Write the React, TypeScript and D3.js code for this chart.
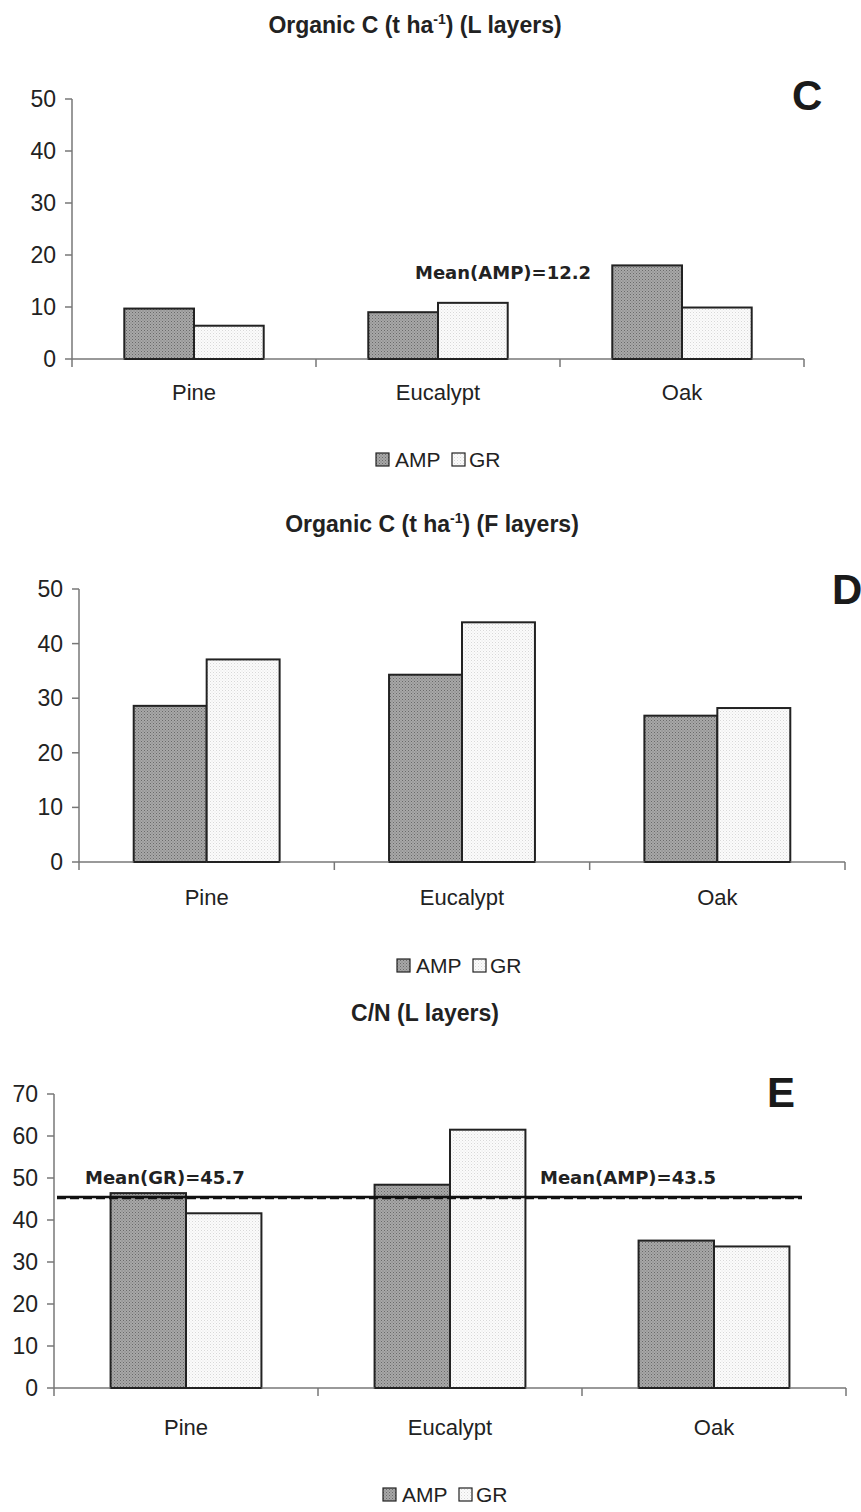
import React from 'react';
import * as d3 from 'd3';

// categories and series
const categories = ['Pine', 'Eucalypt', 'Oak'];
const seriesNames = ['AMP', 'GR'];

// Organic C (t ha-1), L layers
const lAmp = [9.7, 9.0, 18.0];
const lGr = [6.4, 10.8, 9.9];
// Organic C (t ha-1), F layers
const fAmp = [28.6, 34.3, 26.8];
const fGr = [37.1, 43.9, 28.2];
// C/N, L layers
const cnAmp = [46.4, 48.4, 35.1];
const cnGr = [41.6, 61.5, 33.7];

const ticks50 = [0, 10, 20, 30, 40, 50];
const ticks70 = [0, 10, 20, 30, 40, 50, 60, 70];

const font = '"Liberation Sans", Arial, sans-serif';
const wideBold = '"DejaVu Sans", Verdana, sans-serif';

const panels = [
  {
    letter: 'C', title: ['Organic C (t ha', '-1', ') (L layers)'],
    amp: lAmp, gr: lGr, ticks: ticks50, max: 50,
    x0: 72, x1: 804, yTop: 99, yBase: 359,
    titleX: 415, titleY: 33, letterX: 792, letterY: 110,
    catY: 400, legendX: 376, legendY: 460,
    notes: [{ text: 'Mean(AMP)=12.2', x: 415, y: 279 }],
    means: [],
  },
  {
    letter: 'D', title: ['Organic C (t ha', '-1', ') (F layers)'],
    amp: fAmp, gr: fGr, ticks: ticks50, max: 50,
    x0: 79, x1: 845, yTop: 589, yBase: 862,
    titleX: 432, titleY: 532, letterX: 832, letterY: 604,
    catY: 905, legendX: 397, legendY: 966,
    notes: [],
    means: [],
  },
  {
    letter: 'E', title: ['C/N (L layers)', '', ''],
    amp: cnAmp, gr: cnGr, ticks: ticks70, max: 70,
    x0: 54, x1: 846, yTop: 1094, yBase: 1388,
    titleX: 425, titleY: 1021, letterX: 767, letterY: 1107,
    catY: 1435, legendX: 383, legendY: 1495,
    notes: [
      { text: 'Mean(GR)=45.7', x: 85, y: 1184 },
      { text: 'Mean(AMP)=43.5', x: 540, y: 1184 },
    ],
    means: [
      { value: 45.5, dashed: false },
      { value: 45.2, dashed: true },
    ],
  },
];

const Panel = ({ p }: { p: any }) => {
  const y = d3.scaleLinear().domain([0, p.max]).range([p.yBase, p.yTop]);
  const xCat = d3.scaleBand<string>().domain(categories).range([p.x0, p.x1]).padding(0);
  const xSer = d3.scaleBand<string>().domain(seriesNames)
    .range([0, xCat.bandwidth()]).paddingInner(0).paddingOuter(0.75);
  const values = [p.amp, p.gr];

  return (
    <g>
      <text x={p.titleX} y={p.titleY} textAnchor="middle" fontFamily={font} fontWeight="bold" fontSize={23} fill="#222">
        <tspan>{p.title[0]}</tspan>
        {p.title[1] && <tspan dy={-9} fontSize={14}>{p.title[1]}</tspan>}
        {p.title[2] && <tspan dy={9}>{p.title[2]}</tspan>}
      </text>
      <text x={p.letterX} y={p.letterY} fontFamily={font} fontWeight="bold" fontSize={42} fill="#1a1a1a">{p.letter}</text>

      {/* bars */}
      {seriesNames.map((s, si) => categories.map((c, ci) => {
        const v = values[si][ci];
        return (
          <rect key={s + c}
            x={(xCat(c) as number) + (xSer(s) as number)}
            y={y(v)}
            width={xSer.bandwidth()}
            height={p.yBase - y(v)}
            fill={si === 0 ? 'url(#patAmp)' : 'url(#patGr)'}
            stroke="#222" strokeWidth={2} />
        );
      }))}

      {/* y axis */}
      <line x1={p.x0} x2={p.x0} y1={p.yTop} y2={p.yBase + 8} stroke="#777" strokeWidth={1.5} />
      {p.ticks.map((t: number) => (
        <g key={t}>
          <line x1={p.x0 - 7} x2={p.x0} y1={y(t)} y2={y(t)} stroke="#777" strokeWidth={1.5} />
          <text x={p.x0 - 16} y={y(t) + 8} textAnchor="end" fontFamily={font} fontSize={23} fill="#222">{t}</text>
        </g>
      ))}

      {/* x axis */}
      <line x1={p.x0} x2={p.x1} y1={p.yBase} y2={p.yBase} stroke="#777" strokeWidth={1.5} />
      {categories.map((c) => (
        <g key={c}>
          <line x1={(xCat(c) as number) + xCat.bandwidth()} x2={(xCat(c) as number) + xCat.bandwidth()}
            y1={p.yBase} y2={p.yBase + 8} stroke="#777" strokeWidth={1.5} />
          <text x={(xCat(c) as number) + xCat.bandwidth() / 2} y={p.catY} textAnchor="middle"
            fontFamily={font} fontSize={22} fill="#222">{c}</text>
        </g>
      ))}
      {/* bar bottoms over the axis */}
      {seriesNames.map((s) => categories.map((c) => (
        <line key={'b' + s + c}
          x1={(xCat(c) as number) + (xSer(s) as number)} x2={(xCat(c) as number) + (xSer(s) as number) + xSer.bandwidth()}
          y1={p.yBase} y2={p.yBase} stroke="#222" strokeWidth={2} />
      )))}

      {/* mean lines */}
      {p.means.map((m: any, i: number) => (
        <line key={i} x1={p.x0 + 3} x2={p.x0 + 748} y1={y(m.value)} y2={y(m.value)}
          stroke="#111" strokeWidth={m.dashed ? 2 : 2.5} strokeDasharray={m.dashed ? '9,4' : undefined} />
      ))}
      {p.notes.map((n: any, i: number) => (
        <text key={i} x={n.x} y={n.y} fontFamily={wideBold} fontWeight="bold" fontSize={18} fill="#222">{n.text}</text>
      ))}

      {/* legend */}
      <g transform={`translate(${p.legendX},${p.legendY})`}>
        <rect x={0} y={-7} width={13} height={13} fill="url(#patAmp)" stroke="#222" strokeWidth={1.2} />
        <text x={19} y={7} fontFamily={font} fontSize={21} fill="#222">{seriesNames[0]}</text>
        <rect x={76} y={-7} width={13} height={13} fill="url(#patGr)" stroke="#222" strokeWidth={1.2} />
        <text x={93} y={7} fontFamily={font} fontSize={21} fill="#222">{seriesNames[1]}</text>
      </g>
    </g>
  );
};

const App = () => (
  <svg width={861} height={1512} style={{ position: 'absolute', left: 0, top: 0, background: '#fff' }}>
    <defs>
      <pattern id="patAmp" width={3} height={3} patternUnits="userSpaceOnUse">
        <rect width={3} height={3} fill="#a8a8a8" />
        <rect width={1} height={1} fill="#6a6a6a" />
        <rect x={1.5} y={1.5} width={1} height={1} fill="#7a7a7a" />
      </pattern>
      <pattern id="patGr" width={3} height={3} patternUnits="userSpaceOnUse">
        <rect width={3} height={3} fill="#fbfbfb" />
        <rect width={1} height={1} fill="#d8d8d8" />
        <rect x={1.5} y={1.5} width={1} height={1} fill="#e6e6e6" />
      </pattern>
    </defs>
    <rect width={861} height={1512} fill="#fff" />
    {panels.map((p) => <Panel key={p.letter} p={p} />)}
  </svg>
);

export default App;
